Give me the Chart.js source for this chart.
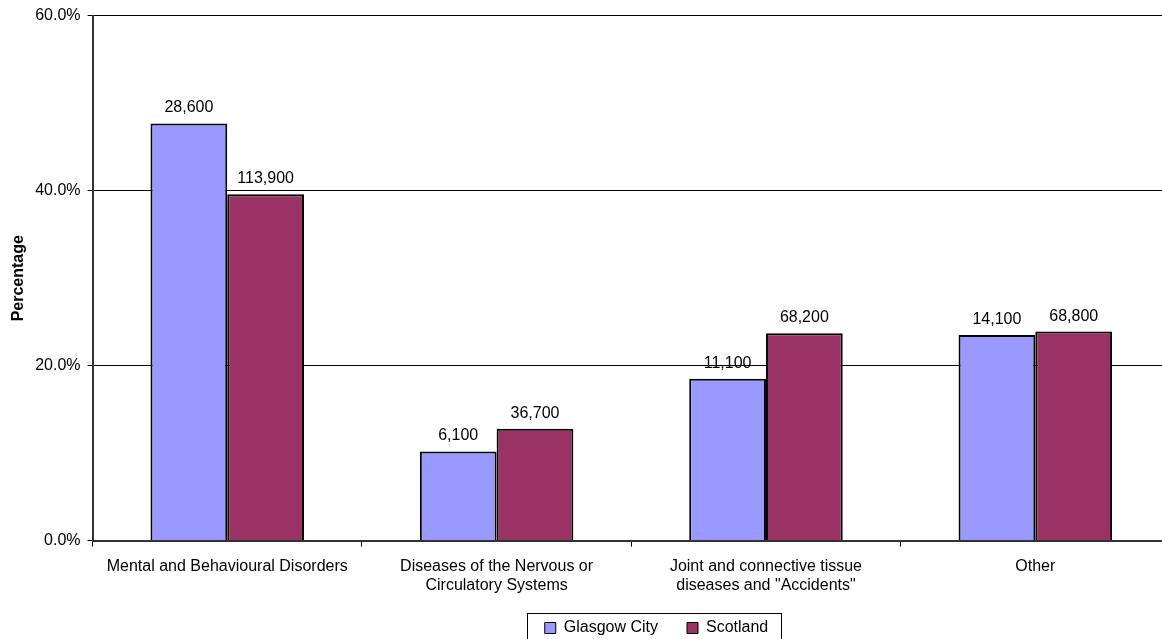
<!DOCTYPE html>
<html>
<head>
<meta charset="utf-8">
<script src="https://cdn.jsdelivr.net/npm/chart.js@4.4.1/dist/chart.umd.min.js"></script>
<style>
  html, body { margin: 0; padding: 0; background: #fff; overflow: hidden; }
  #wrap { width: 1170px; height: 639px; }
</style>
</head>
<body>
<div id="wrap"><canvas id="grafico"></canvas></div>
<script>
// categorias e valores
const categorias = [
  'Mental and Behavioural Disorders',
  ['Diseases of the Nervous or', 'Circulatory Systems'],
  ['Joint and connective tissue', 'diseases and "Accidents"'],
  'Other'
];
const glasgowPct = [47.7, 10.2, 18.5, 23.5];
const scotlandPct = [39.6, 12.8, 23.7, 23.9];
const glasgowNum = [28600, 6100, 11100, 14100];
const scotlandNum = [113900, 36700, 68200, 68800];
const yTicks = [0, 20, 40, 60];

const fonte = '"Liberation Sans", Arial, sans-serif';

// rotulos com os numeros em cima das barras
const rotulos = {
  id: 'rotulos',
  afterDatasetsDraw(chart) {
    const ctx = chart.ctx;
    const nums = [glasgowNum, scotlandNum];
    ctx.save();
    ctx.font = '16px ' + fonte;
    ctx.fillStyle = '#000';
    ctx.textAlign = 'center';
    ctx.textBaseline = 'alphabetic';
    chart.data.datasets.forEach((ds, i) => {
      chart.getDatasetMeta(i).data.forEach((bar, j) => {
        ctx.fillText(nums[i][j].toLocaleString('en-GB'), bar.x, bar.y - 11);
      });
    });
    ctx.restore();
  }
};

// legenda deslocada (direita e para cima), com moldura
const desloc = { x: 67, y: -14 };
const moldura = {
  id: 'moldura',
  afterUpdate(chart) {
    const leg = chart.legend;
    leg.left += desloc.x;
    leg.right += desloc.x;
    leg.top += desloc.y;
    leg.bottom += desloc.y;
    leg.legendHitBoxes.forEach(h => { h.left += desloc.x; h.top += desloc.y; });
  },
  afterDraw(chart) {
    const hb = chart.legend.legendHitBoxes;
    if (!hb || !hb.length) return;
    const l = Math.min(...hb.map(h => h.left)) - 18;
    const r = Math.max(...hb.map(h => h.left + h.width)) + 12;
    const t = hb[0].top - 7;
    const ctx = chart.ctx;
    ctx.save();
    ctx.strokeStyle = '#000';
    ctx.lineWidth = 1;
    ctx.strokeRect(Math.round(l) + 0.5, Math.round(t) + 0.5, Math.round(r - l), 40);
    ctx.restore();
  }
};

let grafico = document.getElementById('grafico').getContext('2d');
let graf = new Chart(grafico, {
  type: 'bar',
  data: {
    labels: categorias,
    datasets: [{
      label: 'Glasgow City',
      data: glasgowPct,
      backgroundColor: '#9999FF',
      borderColor: '#000',
      borderWidth: 2
    }, {
      label: 'Scotland',
      data: scotlandPct,
      backgroundColor: '#993366',
      borderColor: '#000',
      borderWidth: 2
    }]
  },
  options: {
    responsive: true,
    maintainAspectRatio: false,
    animation: false,
    layout: { padding: { top: 7, left: 9, right: 0, bottom: -21 } },
    datasets: { bar: { categoryPercentage: 0.57, barPercentage: 1.0 } },
    plugins: {
      tooltip: { enabled: false },
      legend: {
        position: 'bottom',
        labels: {
          font: { family: fonte, size: 16 },
          color: '#000',
          boxWidth: 11,
          boxHeight: 11,
          padding: 29,
          generateLabels(chart) {
            return chart.data.datasets.map((ds, i) => ({
              text: ds.label,
              fillStyle: ds.backgroundColor,
              strokeStyle: '#000',
              lineWidth: 1,
              datasetIndex: i,
              fontColor: '#000'
            }));
          }
        }
      }
    },
    scales: {
      x: {
        grid: { display: true, drawOnChartArea: false, drawTicks: true, tickLength: 6, color: '#000', offset: true },
        border: { color: '#333', width: 2 },
        ticks: { font: { family: fonte, size: 16 }, color: '#000', maxRotation: 0, autoSkip: false, padding: 10 }
      },
      y: {
        min: 0,
        max: 60,
        afterBuildTicks(axis) { axis.ticks = yTicks.map(v => ({ value: v })); },
        grid: { color: '#000', lineWidth: 1, tickLength: 5, drawTicks: true },
        border: { color: '#333', width: 2 },
        ticks: {
          font: { family: fonte, size: 16, lineHeight: 1.1 },
          color: '#000',
          padding: 7,
          callback: v => v.toFixed(1) + '%'
        },
        title: {
          display: true,
          text: 'Percentage',
          font: { family: fonte, size: 16, weight: 'bold' },
          color: '#000',
          padding: { top: 0, bottom: 0 }
        }
      }
    }
  },
  plugins: [rotulos, moldura]
});
</script>
</body>
</html>
